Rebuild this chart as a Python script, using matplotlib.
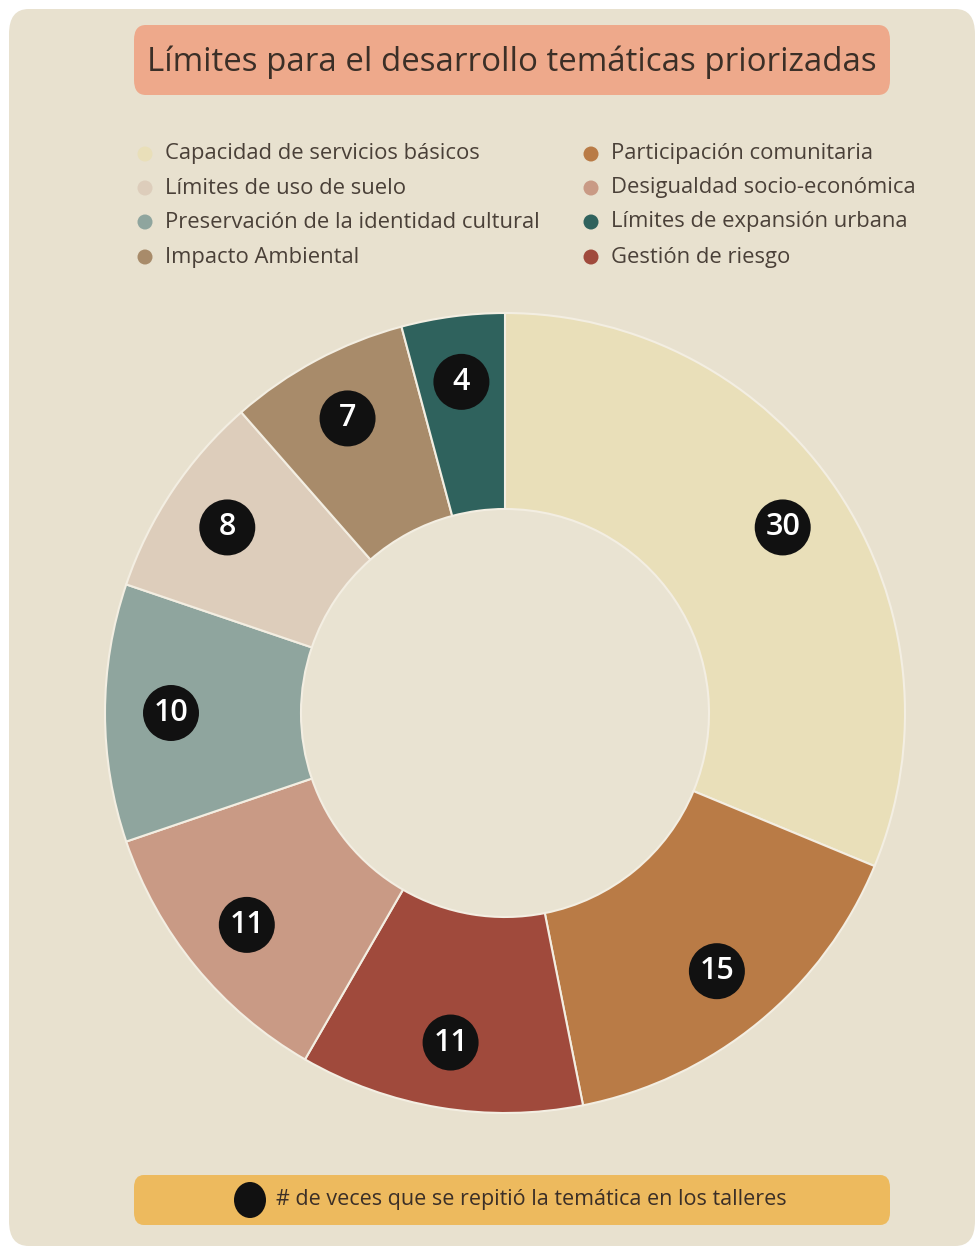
import numpy as np
import matplotlib
matplotlib.use("Agg")
import matplotlib.pyplot as plt
from matplotlib.patches import FancyBboxPatch, Circle, Ellipse

# -------------------------
# Data
# -------------------------
title = "Límites para el desarrollo temáticas priorizadas"
footer = "# de veces que se repitió la temática en los talleres"

# wedges in clockwise order starting at 12 o'clock
categories = [
    "Capacidad de servicios básicos",
    "Participación comunitaria",
    "Gestión de riesgo",
    "Desigualdad socio-económica",
    "Preservación de la identidad cultural",
    "Límites de uso de suelo",
    "Impacto Ambiental",
    "Límites de expansión urbana",
]
counts = [30, 15, 11, 11, 10, 8, 7, 4]
colors = ["#E9DFB9", "#B97B46", "#A04A3C", "#C99A85",
          "#8FA59E", "#DDCDBB", "#A88B6A", "#2F625D"]

# legend layout (two columns, as in the original)
legend_left = ["Capacidad de servicios básicos", "Límites de uso de suelo",
               "Preservación de la identidad cultural", "Impacto Ambiental"]
legend_right = ["Participación comunitaria", "Desigualdad socio-económica",
                "Límites de expansión urbana", "Gestión de riesgo"]

BG = "#E8E1CF"
TXT = "#3B2F27"
FONT = ["Open Sans", "DejaVu Sans"]

W, H = 980, 1251
fig = plt.figure(figsize=(W / 100, H / 100), dpi=100)
fig.patch.set_facecolor("white")


def fx(px):
    return px / W


def fy(py):
    return 1 - py / H


# card background
fig.patches.append(FancyBboxPatch((fx(9), fy(1246)), fx(966), 1237 / H,
                                  boxstyle="round,pad=0,rounding_size=0.02",
                                  transform=fig.transFigure, facecolor=BG,
                                  edgecolor="none", zorder=0))

# title box
fig.patches.append(FancyBboxPatch((fx(134), fy(95)), fx(756), 70 / H,
                                  boxstyle="round,pad=0,rounding_size=0.012",
                                  transform=fig.transFigure, facecolor="#EEA98B",
                                  edgecolor="none", zorder=1))
fig.text(fx(512), fy(62), title, ha="center", va="center", fontsize=23.8,
         color=TXT, family=FONT, zorder=2)

# legend
rows_y = [154, 188, 222, 257]
for col_x, names in [(145, legend_left), (591, legend_right)]:
    for y, name in zip(rows_y, names):
        c = colors[categories.index(name)]
        fig.patches.append(Ellipse((fx(col_x), fy(y)), fx(15), 15 / H,
                                   transform=fig.transFigure, facecolor=c,
                                   edgecolor="none", zorder=2))
        fig.text(fx(col_x + 20), fy(y), name, ha="left", va="center",
                 fontsize=15.8, color="#4A4038", family=FONT, zorder=2)

# donut
ax = fig.add_axes([fx(55), fy(713 + 450), fx(900), 900 / H])
ax.set_zorder(3)
ax.axis("off")

wedges, _ = ax.pie(counts, colors=colors, startangle=90, counterclock=False,
                   radius=1.0,
                   wedgeprops=dict(width=0.49, edgecolor="#F3EEE2", linewidth=1.5))
ax.add_patch(Circle((0, 0), 0.51, facecolor="#E9E3D2", edgecolor="none", zorder=0))
ax.set_xlim(-1.125, 1.125)
ax.set_ylim(-1.125, 1.125)
ax.set_aspect("equal")

for w, n in zip(wedges, counts):
    ang = np.deg2rad((w.theta1 + w.theta2) / 2)
    r = 0.835
    x, y = r * np.cos(ang), r * np.sin(ang)
    ax.add_patch(Circle((x, y), 0.07, facecolor="#111111", edgecolor="none", zorder=5))
    ax.text(x, y, str(n), ha="center", va="center", fontsize=22, color="white",
            family=FONT, fontweight="semibold", zorder=6)

# footer box
fig.patches.append(FancyBboxPatch((fx(134), fy(1225)), fx(756), 50 / H,
                                  boxstyle="round,pad=0,rounding_size=0.01",
                                  transform=fig.transFigure, facecolor="#EDBA5E",
                                  edgecolor="none", zorder=1))
fig.patches.append(Ellipse((fx(250), fy(1200)), fx(32), 36 / H,
                           transform=fig.transFigure, facecolor="#111111",
                           edgecolor="none", zorder=2))
fig.text(fx(276), fy(1200), footer, ha="left", va="center", fontsize=15.5,
         color=TXT, family=FONT, zorder=2)

fig.savefig("out.png", dpi=100, facecolor=fig.get_facecolor())
